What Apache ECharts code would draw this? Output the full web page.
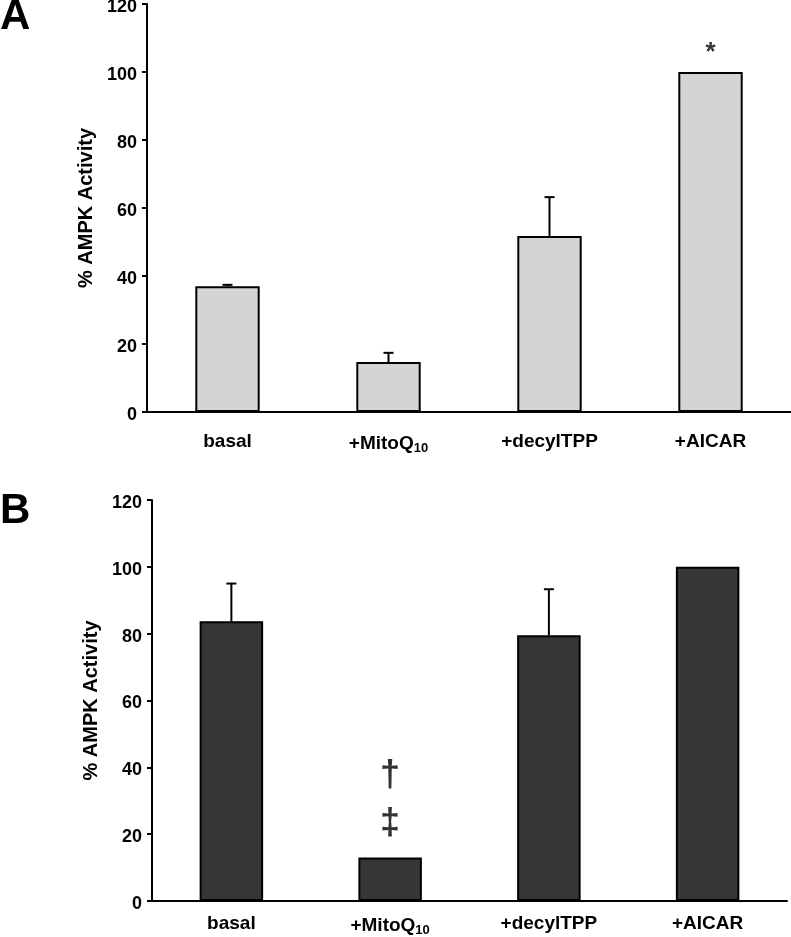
<!DOCTYPE html>
<html><head><meta charset="utf-8">
<script src="https://cdn.jsdelivr.net/npm/echarts@6/dist/echarts.min.js"></script>
<style>html,body{margin:0;padding:0;background:#fff}#c{width:791px;height:937px}</style>
</head><body><div id="c"></div>
<script>
const categories = ['basal', '+MitoQ10', '+decylTPP', '+AICAR'];
const yTicks = [0, 20, 40, 60, 80, 100, 120];
const valuesA = [37, 14.7, 51.8, 100];
const errorsA = [0.4, 2.7, 11.4, 0];
const valuesB = [83.7, 13, 79.5, 100];
const errorsB = [11.3, 0, 13.8, 0];
const annotA = [{cat: '+AICAR', value: 105.5, text: '*'}];
const annotB = [{cat: '+MitoQ10', value: 37.5, text: '†'}, {cat: '+MitoQ10', value: 23, text: '‡'}];

const FONT = '"Liberation Sans", Arial, sans-serif';
const chart = echarts.init(document.getElementById('c'));

function catLabel(v) {
  if (v === '+MitoQ10') return '+MitoQ{sub|10}';
  return v;
}
function xAxis(gi, margin) {
  return {
    type: 'category', gridIndex: gi, data: categories,
    axisLine: {lineStyle: {color: '#000', width: 2}},
    axisTick: {show: false},
    axisLabel: {
      interval: 0, margin: margin, color: '#000', fontWeight: 'bold', fontSize: 19, fontFamily: FONT,
      formatter: catLabel,
      rich: {sub: {fontSize: 13, fontWeight: 'bold', fontFamily: FONT, color: '#000', verticalAlign: 'bottom', padding: [10, 0, 0, 0]}}
    }
  };
}
function yAxis(gi, gap) {
  return {
    type: 'value', gridIndex: gi, min: yTicks[0], max: yTicks[yTicks.length - 1], interval: 20,
    name: '% AMPK Activity', nameLocation: 'middle', nameGap: gap, nameRotate: 90,
    nameTextStyle: {color: '#000', fontWeight: 'bold', fontSize: 20, fontFamily: FONT},
    axisLine: {show: true, lineStyle: {color: '#000', width: 2}},
    axisTick: {show: true, length: 5, lineStyle: {color: '#000', width: 2}},
    splitLine: {show: false},
    axisLabel: {margin: 10, formatter: '{v|{value}}',
      rich: {v: {padding: [6, 0, 0, 0], color: '#000', fontWeight: 'bold', fontSize: 18, fontFamily: FONT}}}
  };
}
function errSeries(gi, vals, errs) {
  return {
    type: 'custom', xAxisIndex: gi, yAxisIndex: gi, z: 1,
    data: categories.map((c, i) => [i, vals[i], errs[i]]),
    renderItem: function (params, api) {
      const err = api.value(2);
      if (!err) return null;
      const base = api.coord([api.value(0), api.value(1)]);
      const top = api.coord([api.value(0), api.value(1) + err]);
      const w = 5;
      return {type: 'group', children: [
        {type: 'line', shape: {x1: base[0], y1: base[1], x2: top[0], y2: top[1]}, style: {stroke: '#000', lineWidth: 2}},
        {type: 'line', shape: {x1: top[0] - w, y1: top[1], x2: top[0] + w, y2: top[1]}, style: {stroke: '#000', lineWidth: 2}}
      ]};
    }
  };
}
function annSeries(gi, ann, size) {
  return {
    type: 'scatter', xAxisIndex: gi, yAxisIndex: gi, symbolSize: 0, z: 5,
    data: ann.map(a => ({value: [a.cat, a.value], text: a.text})),
    label: {show: true, position: 'inside', color: '#000', fontWeight: 'bold', fontSize: size, fontFamily: FONT,
      formatter: p => p.data.text}
  };
}

chart.setOption({
  animation: false,
  backgroundColor: '#fff',
  grid: [
    {left: 147, top: 4, width: 644, height: 408, outerBoundsMode: 'none', containLabel: false},
    {left: 152, top: 500, width: 635, height: 401, outerBoundsMode: 'none', containLabel: false}
  ],
  xAxis: [xAxis(0, 20), xAxis(1, 13)],
  yAxis: [yAxis(0, 46), yAxis(1, 49)],
  graphic: [
    {type: 'text', left: 0, top: -4, style: {text: 'A', fontSize: 42, fontWeight: 'bold', fontFamily: FONT, fill: '#000'}},
    {type: 'text', left: 0, top: 490, style: {text: 'B', fontSize: 42, fontWeight: 'bold', fontFamily: FONT, fill: '#000'}}
  ],
  series: [
    {type: 'bar', xAxisIndex: 0, yAxisIndex: 0, data: valuesA, barWidth: '40%', z: 2,
      itemStyle: {color: '#d4d4d4', borderColor: '#000', borderWidth: 2}},
    errSeries(0, valuesA, errorsA),
    annSeries(0, annotA, 26),
    {type: 'bar', xAxisIndex: 1, yAxisIndex: 1, data: valuesB, barWidth: '40%', z: 2,
      itemStyle: {color: '#363636', borderColor: '#000', borderWidth: 2}},
    errSeries(1, valuesB, errorsB),
    annSeries(1, annotB, 36)
  ]
});
</script></body></html>
